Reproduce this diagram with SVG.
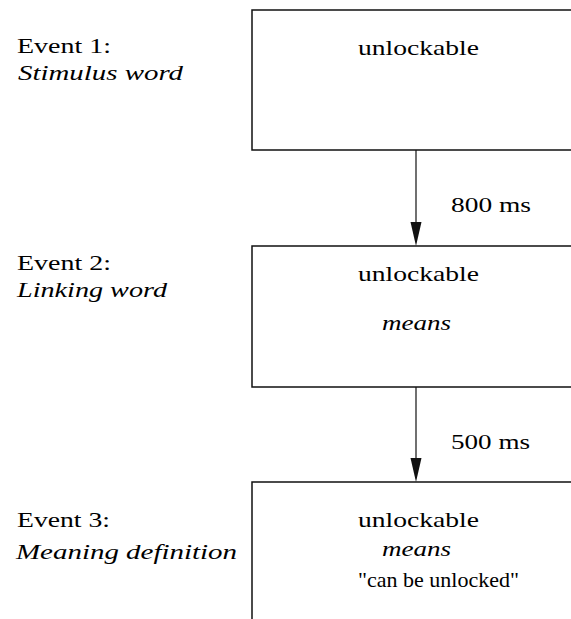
<svg xmlns="http://www.w3.org/2000/svg" width="571" height="619" viewBox="0 0 571 619">
<defs>
<style>
.t{font-family:'Liberation Serif','Times New Roman',Tinos,'Nimbus Roman','DejaVu Serif',serif;font-size:22px;fill:#000}
.i{font-style:italic}
.box{fill:none;stroke:#111;stroke-width:1.5}
.conn{fill:none;stroke:#111;stroke-width:1.2}
.head{fill:#111}
</style>
</defs>
<rect width="571" height="619" fill="#fff"/>
<g id="label1">
<text class="t" x="17" y="53" textLength="94" lengthAdjust="spacingAndGlyphs">Event 1:</text>
<text class="t i" x="18" y="80" textLength="165" lengthAdjust="spacingAndGlyphs">Stimulus word</text>
</g>
<g id="label2">
<text class="t" x="17" y="270" textLength="94" lengthAdjust="spacingAndGlyphs">Event 2:</text>
<text class="t i" x="17" y="297" textLength="150" lengthAdjust="spacingAndGlyphs">Linking word</text>
</g>
<g id="label3">
<text class="t" x="17" y="527" textLength="93" lengthAdjust="spacingAndGlyphs">Event 3:</text>
<text class="t i" x="16" y="559" textLength="221" lengthAdjust="spacingAndGlyphs">Meaning definition</text>
</g>
<g id="event1">
<path class="box" d="M571,10 H252 V150 H571"/>
<text class="t" x="358" y="55" textLength="121" lengthAdjust="spacingAndGlyphs">unlockable</text>
</g>
<g id="event2">
<path class="box" d="M571,246 H252 V387 H571"/>
<text class="t" x="358" y="281" textLength="121" lengthAdjust="spacingAndGlyphs">unlockable</text>
<text class="t i" x="382" y="330" textLength="69" lengthAdjust="spacingAndGlyphs">means</text>
</g>
<g id="event3">
<path class="box" d="M571,482 H252 V619"/>
<text class="t" x="358" y="527" textLength="121" lengthAdjust="spacingAndGlyphs">unlockable</text>
<text class="t i" x="382" y="556" textLength="69" lengthAdjust="spacingAndGlyphs">means</text>
<text class="t" x="358" y="587" textLength="161" lengthAdjust="spacingAndGlyphs">"can be unlocked"</text>
</g>
<g id="connectors">
<line class="conn" x1="416" y1="150" x2="416" y2="222"/>
<polygon class="head" points="410.5,222 421.5,222 416,246"/>
<text class="t" x="451" y="212" textLength="80" lengthAdjust="spacingAndGlyphs">800 ms</text>
<line class="conn" x1="416" y1="387" x2="416" y2="458"/>
<polygon class="head" points="410.5,458 421.5,458 416,482"/>
<text class="t" x="451" y="449" textLength="79" lengthAdjust="spacingAndGlyphs">500 ms</text>
</g>
</svg>
